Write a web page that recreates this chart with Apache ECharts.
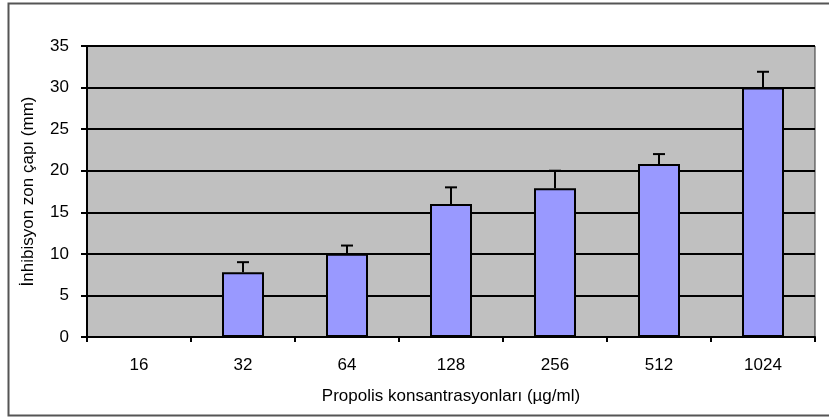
<!DOCTYPE html>
<html><head><meta charset="utf-8">
<script src="https://cdn.jsdelivr.net/npm/echarts@6/dist/echarts.min.js"></script>
<style>html,body{margin:0;padding:0;background:#fff}#c{width:829px;height:418px}</style>
</head><body><div id="c"></div>
<script>
const categories = ['16','32','64','128','256','512','1024'];
const values = [null, 7.8, 10, 16, 17.9, 20.8, 30];
const errors = [null, 1.2, 1, 2, 2.1, 1.2, 1.9];
const yTicks = [0, 5, 10, 15, 20, 25, 30, 35];

const chart = echarts.init(document.getElementById('c'));
const font = 'Liberation Sans, Arial, sans-serif';
chart.setOption({
  animation: false,
  backgroundColor: '#fff',
  graphic: [{type:'rect', shape:{x:8.5,y:3.5,width:830,height:412}, style:{fill:'none', stroke:'#555', lineWidth:2}, z:-1}],
  grid: {left: 87, right: 14, top: 46, bottom: 81, show: true, backgroundColor: '#C0C0C0', borderColor: '#333', borderWidth: 1},
  xAxis: {
    type: 'category', data: categories,
    axisLine: {lineStyle: {color: '#000', width: 2}},
    axisTick: {show: true, length: 5, lineStyle: {color: '#000', width: 2}, alignWithLabel: false},
    axisLabel: {color: '#000', fontFamily: font, fontSize: 17, margin: 20},
    name: 'Propolis konsantrasyonları (µg/ml)', nameLocation: 'middle', nameGap: 51,
    nameTextStyle: {color: '#000', fontFamily: font, fontSize: 17}
  },
  yAxis: {
    type: 'value', min: yTicks[0], max: yTicks[yTicks.length-1], interval: 5,
    axisLine: {show: true, lineStyle: {color: '#000', width: 2}},
    axisTick: {show: true, length: 6, lineStyle: {color: '#000', width: 2}},
    axisLabel: {color: '#000', fontFamily: font, fontSize: 17, margin: 18},
    splitLine: {lineStyle: {color: '#000', width: 2}},
    name: 'İnhibisyon zon çapı (mm)', nameLocation: 'middle', nameGap: 50,
    nameTextStyle: {color: '#000', fontFamily: font, fontSize: 17}
  },
  series: [
    {type: 'bar', data: values, barWidth: 42, itemStyle: {color: '#9999FF', borderColor: '#000', borderWidth: 2}, z: 3},
    {type: 'custom', z: 4,
     data: values.map((v,i) => v == null ? [i, null, null] : [i, v, v + errors[i]]),
     renderItem: function(params, api) {
       if (api.value(1) == null || isNaN(api.value(1))) return null;
       const p0 = api.coord([api.value(0), api.value(1)]);
       const p1 = api.coord([api.value(0), api.value(2)]);
       const x = Math.round(p0[0]) ;
       return {type: 'group', children: [
         {type: 'line', shape: {x1: x, y1: p0[1], x2: x, y2: p1[1]}, style: {stroke: '#000', lineWidth: 2}},
         {type: 'line', shape: {x1: x-6, y1: p1[1], x2: x+6, y2: p1[1]}, style: {stroke: '#000', lineWidth: 2}}
       ]};
     }}
  ]
});
</script></body></html>
